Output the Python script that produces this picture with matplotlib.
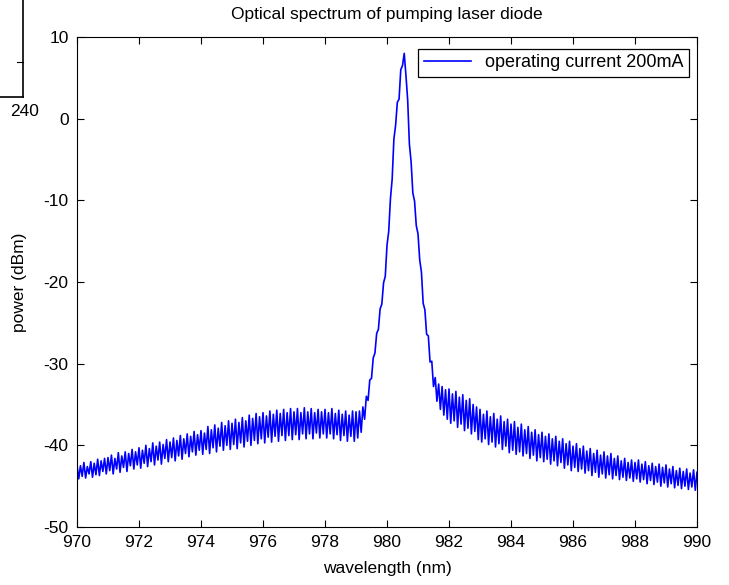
import numpy as np
import matplotlib
matplotlib.use("Agg")
import matplotlib.pyplot as plt
from matplotlib.lines import Line2D

plt.rcParams['font.family'] = ['Liberation Sans', 'DejaVu Sans']
plt.rcParams['axes.unicode_minus'] = False

# measured spectrum, 361 samples on a uniform grid from 970 nm to 990 nm
wl_start, wl_stop = 970.0, 990.0
power_dbm = [
    # 970 - 971 nm
    -42.4, -44.1, -42.5, -43.8, -42.1, -44.0, -42.6, -43.5, -42.0, -43.9, -42.2, -43.6, -41.7, -43.7, -41.9, -43.2, -41.6, -43.5,
    # 971 - 972
    -41.5, -43.1, -41.2, -43.5, -41.6, -42.9, -40.9, -43.3, -41.3, -42.7, -40.8, -43.2, -41.0, -42.5, -40.5, -42.9, -40.8, -42.4,
    # 972 - 973
    -40.3, -42.8, -40.6, -42.2, -40.0, -42.6, -40.4, -42.0, -39.7, -42.4, -40.1, -41.8, -39.6, -42.3, -39.9, -41.6, -39.3, -42.0,
    # 973 - 974
    -39.6, -41.5, -39.1, -41.9, -39.4, -41.3, -38.8, -41.7, -39.2, -41.0, -38.6, -41.4, -38.9, -40.8, -38.3, -41.2, -38.7, -40.6,
    # 974 - 975
    -38.2, -41.1, -38.5, -40.5, -37.7, -41.0, -38.1, -40.3, -37.5, -40.8, -37.9, -40.1, -37.2, -40.6, -37.6, -40.0, -37.0, -40.5,
    # 975 - 976
    -37.3, -39.9, -36.8, -40.4, -37.2, -39.7, -36.6, -40.2, -37.0, -39.5, -36.3, -40.0, -36.7, -39.4, -36.1, -39.8, -36.5, -39.2,
    # 976 - 977
    -36.0, -39.7, -36.4, -39.0, -35.8, -39.6, -36.2, -38.9, -35.7, -39.5, -36.1, -38.8, -35.6, -39.4, -36.0, -38.8, -35.5, -39.3,
    # 977 - 978
    -35.9, -38.7, -35.5, -39.3, -36.0, -38.6, -35.4, -39.2, -35.9, -38.6, -35.5, -39.2, -36.0, -38.5, -35.6, -39.1, -35.9, -38.6,
    # 978 - 979
    -35.6, -39.1, -36.0, -38.6, -35.5, -39.2, -36.1, -38.7, -35.7, -39.4, -36.2, -38.8, -35.8, -39.5, -36.3, -38.9, -35.8, -39.5,
    # 979 - 980
    -35.9, -39.1, -35.8, -38.4, -35.3, -36.8, -34.0, -34.5, -32.0, -31.8, -29.3, -28.7, -26.3, -25.8, -23.3, -22.7, -20.1, -19.3,
    # 980 - 981
    -15.5, -13.8, -9.8, -7.4, -2.5, -0.8, 2.0, 2.4, 6.0, 6.5, 8.0, 5.3, 2.3, -3.1, -5.3, -9.1, -10.1, -13.1,
    # 981 - 982
    -14.1, -17.3, -18.8, -22.6, -23.4, -26.4, -26.6, -29.8, -29.7, -32.8, -31.7, -34.6, -32.5, -35.6, -32.8, -36.3, -33.2, -36.8,
    # 982 - 983
    -33.1, -37.3, -33.7, -37.0, -33.4, -37.8, -34.1, -37.4, -33.8, -38.2, -34.5, -37.9, -34.3, -38.6, -35.0, -38.3, -35.3, -39.3,
    # 983 - 984
    -35.6, -39.6, -36.2, -39.2, -35.8, -39.9, -36.5, -39.6, -36.1, -40.2, -36.8, -39.8, -36.4, -40.5, -37.1, -40.1, -36.8, -40.9,
    # 984 - 985
    -37.4, -40.6, -37.1, -41.1, -37.8, -40.8, -37.4, -41.3, -38.1, -41.0, -37.7, -41.6, -38.4, -41.2, -38.1, -41.9, -38.7, -41.5,
    # 985 - 986
    -38.4, -42.0, -38.9, -41.7, -38.6, -42.3, -39.2, -41.9, -38.9, -42.5, -39.5, -42.1, -39.2, -42.8, -39.8, -42.4, -39.5, -43.1,
    # 986 - 987
    -40.1, -42.7, -39.8, -43.2, -40.4, -42.9, -40.1, -43.4, -40.7, -43.1, -40.4, -43.7, -41.0, -43.3, -40.6, -43.9, -41.2, -43.5,
    # 987 - 988
    -40.8, -44.0, -41.3, -43.6, -41.0, -44.1, -41.6, -43.7, -41.3, -44.2, -41.9, -43.9, -41.6, -44.3, -42.1, -44.0, -41.8, -44.4,
    # 988 - 989
    -42.1, -44.1, -41.8, -44.5, -42.3, -44.2, -42.0, -44.7, -42.5, -44.3, -42.2, -44.8, -42.6, -44.5, -42.3, -45.0, -42.7, -44.6,
    # 989 - 990
    -42.4, -45.1, -42.9, -44.7, -42.6, -45.2, -43.1, -44.9, -42.8, -45.3, -43.2, -45.0, -42.9, -45.4, -43.4, -45.1, -43.0, -45.5, -43.3,
]
wavelength = np.linspace(wl_start, wl_stop, len(power_dbm))

x_ticks = [970, 972, 974, 976, 978, 980, 982, 984, 986, 988, 990]
y_ticks = [-50, -40, -30, -20, -10, 0, 10]
title = "Optical spectrum of pumping laser diode"
x_label = "wavelength (nm)"
y_label = "power (dBm)"
legend_label = "operating current 200mA"

W, H = 729, 585
fig = plt.figure(figsize=(W / 100, H / 100), dpi=100)
ax = fig.add_axes([77 / W, 1 - 527 / H, (697 - 77) / W, (527 - 37) / H])

ax.plot(wavelength, power_dbm, color=(0, 0, 1), lw=1.2, label=legend_label)

ax.set_xlim(970, 990)
ax.set_ylim(-50, 10)
ax.set_xticks(x_ticks)
ax.set_yticks(y_ticks)
fs = 12.5
ax.tick_params(direction='in', length=5, width=0.8, top=True, right=True,
               labelsize=fs, colors='black')
ax.tick_params(axis='x', pad=6)
ax.tick_params(axis='y', pad=6)
for s in ax.spines.values():
    s.set_linewidth(0.8)
    s.set_color('black')
ax.set_title(title, fontsize=fs, pad=13)
ax.set_xlabel(x_label, fontsize=fs, labelpad=8)
ax.set_ylabel(y_label, fontsize=fs, labelpad=12)

leg = ax.legend(loc='upper right', bbox_to_anchor=(689 / W, 1 - 49 / H),
                bbox_transform=fig.transFigure, borderaxespad=0,
                fontsize=13, fancybox=False, framealpha=1,
                edgecolor='black', handlelength=2.6,
                borderpad=0.3, handletextpad=0.8)
leg.get_frame().set_linewidth(0.9)

# fragment of a neighbouring figure at the top-left corner
fig.add_artist(Line2D([23 / W, 23 / W], [1, 1 - 97 / H], color='black', lw=1.2))
fig.add_artist(Line2D([0, 23 / W], [1 - 97 / H, 1 - 97 / H], color='black', lw=1.2))
fig.add_artist(Line2D([17 / W, 23 / W], [1 - 62 / H, 1 - 62 / H], color='black', lw=0.8))
fig.text(25 / W, 1 - 112 / H, "240", ha='center', va='center', fontsize=fs)

fig.savefig("out.png", dpi=100)
